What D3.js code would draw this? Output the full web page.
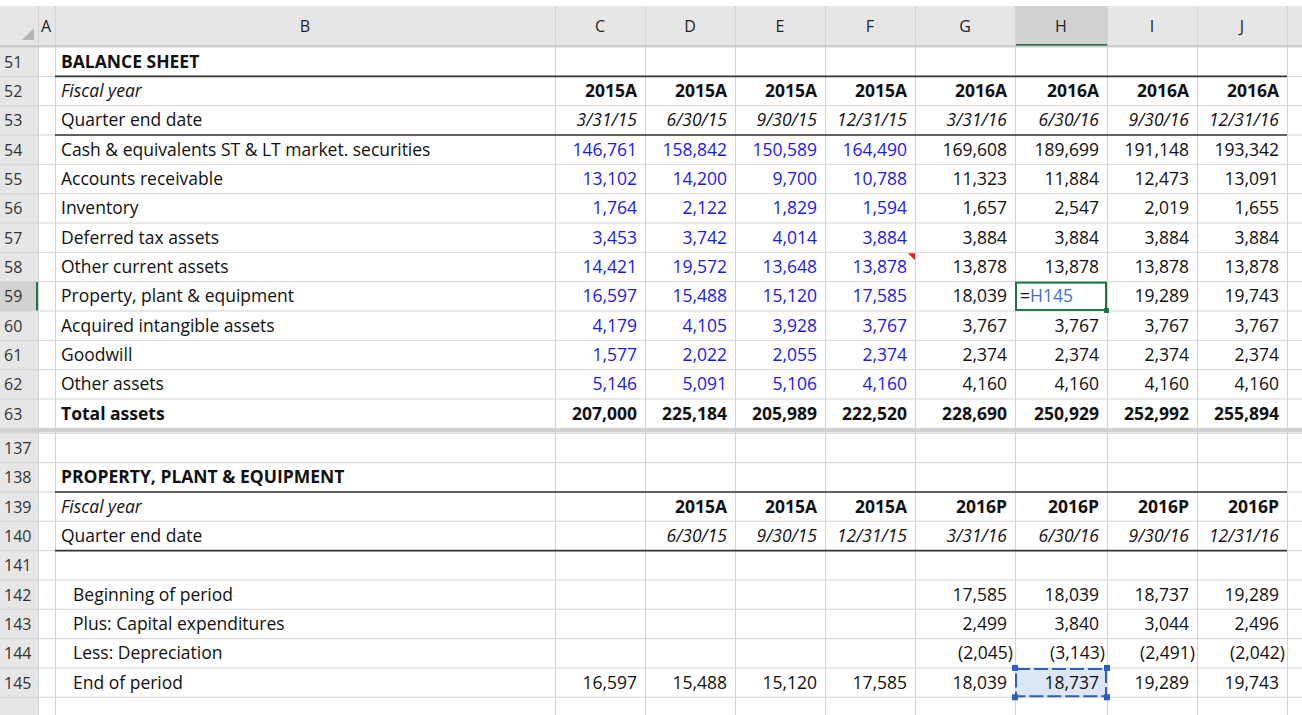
<!DOCTYPE html>
<html>
<head>
<meta charset="utf-8">
<script src="https://cdn.jsdelivr.net/npm/d3@7"></script>
<style>
	body { margin: 0; background: #fff; }
	text { font-family: "Open Sans", "Liberation Sans", sans-serif; }
</style>
</head>
<body>
<svg id="sheet" width="1302" height="715"></svg>
<script>

// column letters and their right edges (px)
var colLetters = ['A', 'B', 'C', 'D', 'E', 'F', 'G', 'H', 'I', 'J'];
var colEdges = [38, 55, 555, 645, 735, 825, 915, 1015, 1107, 1197, 1287];

// balance sheet block
var bsRowNums = [51, 52, 53, 54, 55, 56, 57, 58, 59, 60, 61, 62, 63];
var bsLabels = ['BALANCE SHEET', 'Fiscal year', 'Quarter end date',
	'Cash & equivalents ST & LT market. securities', 'Accounts receivable', 'Inventory',
	'Deferred tax assets', 'Other current assets', 'Property, plant & equipment',
	'Acquired intangible assets', 'Goodwill', 'Other assets', 'Total assets'];
var bsYears = ['2015A', '2015A', '2015A', '2015A', '2016A', '2016A', '2016A', '2016A'];
var bsDates = ['3/31/15', '6/30/15', '9/30/15', '12/31/15', '3/31/16', '6/30/16', '9/30/16', '12/31/16'];
var bsValues = [
	['146,761', '158,842', '150,589', '164,490', '169,608', '189,699', '191,148', '193,342'],
	['13,102', '14,200', '9,700', '10,788', '11,323', '11,884', '12,473', '13,091'],
	['1,764', '2,122', '1,829', '1,594', '1,657', '2,547', '2,019', '1,655'],
	['3,453', '3,742', '4,014', '3,884', '3,884', '3,884', '3,884', '3,884'],
	['14,421', '19,572', '13,648', '13,878', '13,878', '13,878', '13,878', '13,878'],
	['16,597', '15,488', '15,120', '17,585', '18,039', '=H145', '19,289', '19,743'],
	['4,179', '4,105', '3,928', '3,767', '3,767', '3,767', '3,767', '3,767'],
	['1,577', '2,022', '2,055', '2,374', '2,374', '2,374', '2,374', '2,374'],
	['5,146', '5,091', '5,106', '4,160', '4,160', '4,160', '4,160', '4,160']
];
var bsTotals = ['207,000', '225,184', '205,989', '222,520', '228,690', '250,929', '252,992', '255,894'];

// PP&E block
var ppRowNums = [137, 138, 139, 140, 141, 142, 143, 144, 145, 146];
var ppLabels = ['', 'PROPERTY, PLANT & EQUIPMENT', 'Fiscal year', 'Quarter end date', '',
	'Beginning of period', 'Plus: Capital expenditures', 'Less: Depreciation', 'End of period', ''];
var ppYears = ['', '2015A', '2015A', '2015A', '2016P', '2016P', '2016P', '2016P'];
var ppDates = ['', '6/30/15', '9/30/15', '12/31/15', '3/31/16', '6/30/16', '9/30/16', '12/31/16'];
var ppValues = [
	['', '', '', '', '17,585', '18,039', '18,737', '19,289'],
	['', '', '', '', '2,499', '3,840', '3,044', '2,496'],
	['', '', '', '', '(2,045)', '(3,143)', '(2,491)', '(2,042)'],
	['16,597', '15,488', '15,120', '17,585', '18,039', '18,737', '19,289', '19,743']
];

var svg = d3.select('#sheet');
var rowH = 29.33;
var headTop = 6, headBot = 46;
var bsTop = 47;
var ppTop = bsTop + rowH * 13 + 5;
var fs = 17.5;

var col = d3.scaleOrdinal().domain(colLetters).range(colLetters.map((c, i) => [colEdges[i], colEdges[i + 1]]));
var bsY = d3.scaleBand().domain(bsRowNums).range([bsTop, bsTop + rowH * bsRowNums.length]);
var ppY = d3.scaleBand().domain(ppRowNums).range([ppTop, ppTop + rowH * ppRowNums.length]);
var dataCols = colLetters.slice(2);

// header backgrounds
svg.append('rect').attr('x', 0).attr('y', headTop).attr('width', 1302).attr('height', headBot - headTop).attr('fill', '#e6e6e6');
svg.append('rect').attr('x', 0).attr('y', headBot).attr('width', 38).attr('height', 715).attr('fill', '#e6e6e6');
svg.append('rect').attr('x', col('H')[0]).attr('y', headTop).attr('width', col('H')[1] - col('H')[0]).attr('height', headBot - headTop).attr('fill', '#d2d2d2');
svg.append('line').attr('x1', col('H')[0]).attr('x2', col('H')[1]).attr('y1', headBot - 1).attr('y2', headBot - 1).attr('stroke', '#217346').attr('stroke-width', 2);
svg.append('rect').attr('x', 0).attr('y', bsY(59)).attr('width', 38).attr('height', rowH).attr('fill', '#d2d2d2');
svg.append('line').attr('x1', 37).attr('x2', 37).attr('y1', bsY(59)).attr('y2', bsY(59) + rowH).attr('stroke', '#217346').attr('stroke-width', 2);
svg.append('path').attr('d', 'M22,40 L34,40 L34,28 Z').attr('fill', '#b4b4b4');

// selected cell fill H145
svg.append('rect').attr('x', col('H')[0]).attr('y', ppY(145)).attr('width', col('H')[1] - col('H')[0]).attr('height', rowH).attr('fill', '#dde6f4');

// grid lines
var gridColor = '#d4d4d4';
colEdges.forEach(x => {
	svg.append('line').attr('x1', x + 0.5).attr('x2', x + 0.5).attr('y1', headTop).attr('y2', 715).attr('stroke', gridColor);
});
bsRowNums.concat(['end']).forEach((r, i) => {
	var y = bsTop + i * rowH;
	svg.append('line').attr('x1', 0).attr('x2', 1302).attr('y1', y).attr('y2', y).attr('stroke', gridColor);
});
ppRowNums.forEach((r, i) => {
	var y = ppTop + i * rowH;
	svg.append('line').attr('x1', 0).attr('x2', 1302).attr('y1', y).attr('y2', y).attr('stroke', gridColor);
});
svg.append('line').attr('x1', 0).attr('x2', 1302).attr('y1', headBot).attr('y2', headBot).attr('stroke', '#b0b0b0');

// frozen-pane separator
svg.append('rect').attr('x', 0).attr('y', ppTop - 5).attr('width', 1302).attr('height', 4).attr('fill', '#d0d0d0');

// thick borders
function thick(y) {
	svg.append('line').attr('x1', col('B')[0]).attr('x2', col('J')[1]).attr('y1', y).attr('y2', y).attr('stroke', '#333').attr('stroke-width', 1.6);
}
thick(bsY(52)); thick(bsY(54)); thick(ppY(139)); thick(ppY(141));

// column headers
svg.selectAll('.colhead').data(colLetters).enter().append('text')
	.attr('x', d => d === 'A' ? col(d)[0] + 3 : (col(d)[0] + col(d)[1]) / 2)
	.attr('y', (headTop + headBot) / 2 + 6)
	.attr('text-anchor', d => d === 'A' ? 'start' : 'middle')
	.attr('font-size', 16).attr('fill', '#222').text(d => d);

// row numbers
function rowNums(nums, y) {
	svg.selectAll(null).data(nums).enter().append('text')
		.attr('x', 4).attr('y', d => y(d) + rowH / 2 + 6)
		.attr('font-size', 16).attr('fill', '#333').text(d => d);
}
rowNums(bsRowNums, bsY); rowNums(ppRowNums.slice(0, -1), ppY);

// labels
function labels(nums, labs, y, indentFrom) {
	svg.selectAll(null).data(nums).enter().append('text')
		.attr('x', (d, i) => col('B')[0] + (indentFrom && d >= indentFrom ? 18 : 6))
		.attr('y', d => y(d) + rowH / 2 + 6)
		.attr('font-size', fs)
		.attr('font-weight', (d, i) => labs[i] && (labs[i] === 'Total assets' || labs[i].match(/^[A-Z ,&]+$/)) ? 'bold' : null)
		.attr('font-style', (d, i) => labs[i] === 'Fiscal year' ? 'italic' : null)
		.attr('fill', '#111')
		.text((d, i) => labs[i]);
}
labels(bsRowNums, bsLabels, bsY);
labels(ppRowNums, ppLabels, ppY, 142);

// a row of values
function valueRow(vals, yTop, opts) {
	var t = svg.selectAll(null).data(vals).enter().append('text')
		.attr('x', (d, i) => d[0] === '=' ? col(dataCols[i])[0] + 5 : col(dataCols[i])[1] - (d[0] === '(' ? 2 : 8))
		.attr('y', yTop + rowH / 2 + 6)
		.attr('text-anchor', d => d[0] === '=' ? 'start' : 'end')
		.attr('font-size', fs)
		.attr('font-weight', opts.bold ? 'bold' : null)
		.attr('font-style', opts.italic ? 'italic' : null)
		.attr('fill', (d, i) => opts.blue && i < 4 ? '#1a1af0' : '#111');
	t.filter(d => d[0] !== '=').text(d => d);
	// formula: dark "=" then blue reference
	var f = t.filter(d => d[0] === '=');
	f.append('tspan').attr('fill', '#111').text('=');
	f.append('tspan').attr('fill', '#3b6fc4').text(d => d.slice(1));
}
valueRow(bsYears, bsY(52), { bold: true });
valueRow(bsDates, bsY(53), { italic: true });
bsValues.forEach((r, i) => valueRow(r, bsY(54 + i), { blue: true }));
valueRow(bsTotals, bsY(63), { bold: true });
valueRow(ppYears, ppY(139), { bold: true });
valueRow(ppDates, ppY(140), { italic: true });
ppValues.forEach((r, i) => valueRow(r, ppY(142 + i), {}));

// active cell H59 border
svg.append('rect').attr('x', col('H')[0] + 1).attr('y', bsY(59) + 1).attr('width', col('H')[1] - col('H')[0] - 2).attr('height', rowH - 2)
	.attr('fill', 'none').attr('stroke', '#217346').attr('stroke-width', 2);
svg.append('rect').attr('x', col('H')[1] - 3).attr('y', bsY(59) + rowH - 3).attr('width', 5).attr('height', 5).attr('fill', '#217346');

// comment marker F58
svg.append('path').attr('d', `M${col('F')[1] - 7},${bsY(58) + 1} L${col('F')[1]},${bsY(58) + 1} L${col('F')[1]},${bsY(58) + 8} Z`).attr('fill', '#e02020');

// dashed referenced cell H145
svg.append('rect').attr('x', col('H')[0] + 1).attr('y', ppY(145) + 1).attr('width', col('H')[1] - col('H')[0] - 2).attr('height', rowH - 2)
	.attr('fill', 'none').attr('stroke', '#2a5fc4').attr('stroke-width', 2).attr('stroke-dasharray', '14,4');
[[0, 0], [1, 0], [0, 1], [1, 1]].forEach(p => {
	svg.append('rect').attr('x', (p[0] ? col('H')[1] : col('H')[0]) - 3).attr('y', ppY(145) + p[1] * rowH - 3)
		.attr('width', 6).attr('height', 6).attr('fill', '#2a5fc4');
});
</script>
</body>
</html>
